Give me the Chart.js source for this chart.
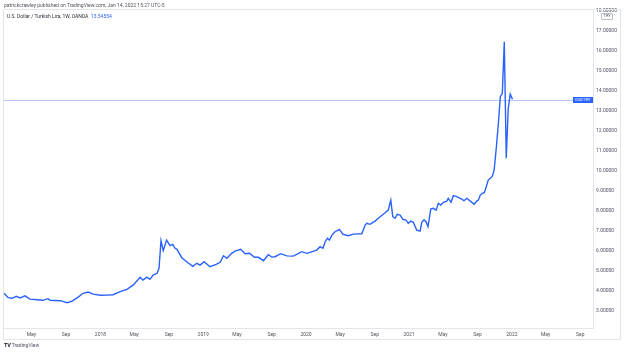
<!DOCTYPE html>
<html><head><meta charset="utf-8">
<script src="https://cdn.jsdelivr.net/npm/chart.js@4.4.1/dist/chart.umd.min.js"></script>
<style>
html,body{margin:0;padding:0;background:#fff;}
#wrap{position:relative;width:624px;height:353px;overflow:hidden;font-family:Roboto,"Liberation Sans",sans-serif;}
canvas{position:absolute;left:0;top:0;}
.t{position:absolute;white-space:nowrap;line-height:1;}
</style></head><body>
<div id="wrap">
<canvas id="c" width="624" height="353"></canvas>
<div style="position:absolute;left:3px;top:9px;width:616px;height:329px;border:1px solid #e3e5ea;"></div>
<div class="t" style="left:4px;top:2.5px;font-size:5px;color:#50535e;">patrickcrawley published on TradingView.com, Jan 14, 2022 15:27 UTC-5</div>
<div class="t" style="left:7px;top:14px;font-size:5px;color:#2a2e39;">U.S. Dollar / Turkish Lira, 1W, OANDA&nbsp; <span style="color:#2962ff">13.54554</span></div>
<div class="t" style="left:601px;top:12.5px;font-size:4px;color:#50535e;background:#fff;border:0.6px solid #b8bcc6;border-radius:1px;padding:0.8px 1.5px;">TRY</div>
<div class="t" id="badge" style="left:572.5px;top:96.5px;width:20px;height:6.2px;font-size:3.8px;line-height:6.2px;text-align:center;color:#fff;background:#2962ff;">USD/TRY</div>
<div class="t" style="left:4px;top:343px;font-size:5px;color:#131722;"><b style="font-size:5.5px;letter-spacing:-0.3px;">TV</b>&nbsp;<span style="color:#50535e">TradingView</span></div>
</div>
<script>
// ---- data ----
const dates = [
"2017-01-24","2017-02-07","2017-02-21","2017-03-08","2017-03-22","2017-04-08","2017-04-26","2017-05-21","2017-06-11","2017-06-29","2017-07-06","2017-08-11","2017-09-05","2017-09-22","2017-10-14","2017-10-31","2017-11-18","2017-12-06",
"2018-01-01","2018-01-25","2018-02-15","2018-03-12","2018-04-05","2018-04-27","2018-05-22","2018-06-01","2018-06-15","2018-06-26","2018-07-07","2018-07-21","2018-07-28","2018-08-04","2018-08-12","2018-08-24","2018-09-05","2018-09-15","2018-09-23","2018-09-29","2018-10-17","2018-11-03","2018-11-25","2018-12-09","2018-12-21",
"2019-01-04","2019-01-25","2019-02-16","2019-03-02","2019-03-14","2019-03-26","2019-04-12","2019-04-24","2019-05-14","2019-05-30","2019-06-14","2019-07-02","2019-07-16","2019-08-03","2019-08-20","2019-09-02","2019-09-13","2019-10-03","2019-10-25","2019-11-17","2019-12-17",
"2020-01-04","2020-02-08","2020-02-20","2020-03-01","2020-03-09","2020-03-17","2020-03-24","2020-04-02","2020-04-13","2020-04-29","2020-05-11","2020-05-31","2020-06-17","2020-07-17","2020-07-29","2020-08-04","2020-08-15","2020-09-02","2020-09-20","2020-10-08","2020-10-19","2020-10-28","2020-11-04","2020-11-12","2020-11-20","2020-11-30","2020-12-10","2020-12-21","2020-12-29",
"2021-01-07","2021-01-16","2021-01-28","2021-02-09","2021-02-15","2021-02-23","2021-03-02","2021-03-09","2021-03-19","2021-03-28","2021-04-07","2021-04-15","2021-04-23","2021-05-03","2021-05-15","2021-05-20","2021-05-30","2021-06-07","2021-06-19","2021-07-07","2021-07-15","2021-07-25","2021-08-06","2021-08-20","2021-08-29","2021-09-04","2021-09-11","2021-09-18","2021-09-25","2021-10-02","2021-10-09","2021-10-16","2021-10-23","2021-10-30","2021-11-07","2021-11-14","2021-11-21","2021-11-28","2021-12-05","2021-12-12","2021-12-19","2021-12-26","2022-01-03"
];
const usdTry = [
3.87,3.65,3.62,3.72,3.64,3.74,3.58,3.55,3.52,3.60,3.52,3.50,3.40,3.48,3.68,3.87,3.93,3.83,
3.77,3.78,3.80,3.95,4.07,4.28,4.67,4.53,4.68,4.57,4.78,4.87,5.12,6.50,6.00,6.53,6.25,6.32,6.12,6.08,5.65,5.45,5.22,5.37,5.28,
5.45,5.20,5.32,5.42,5.75,5.62,5.87,5.98,6.07,5.85,5.87,5.67,5.67,5.50,5.80,5.68,5.70,5.85,5.74,5.73,5.95,
5.87,6.03,6.20,6.12,6.45,6.62,6.53,6.78,6.95,7.07,6.82,6.75,6.83,6.85,7.28,7.37,7.32,7.48,7.70,7.90,8.03,8.53,7.70,7.62,7.82,7.78,7.57,7.53,7.37,
7.48,7.42,7.03,6.98,7.42,7.55,7.45,7.20,8.08,8.12,8.03,8.37,8.28,8.42,8.48,8.62,8.42,8.75,8.70,8.58,8.50,8.62,8.48,8.32,8.48,8.53,8.78,8.87,8.90,9.20,9.53,9.62,9.70,10.03,11.20,12.37,13.70,13.87,16.45,10.62,13.10,13.83,13.57
];
const lastPrice = 13.54554;
const xTickDates = ["2017-05-01","2017-09-01","2018-01-01","2018-05-01","2018-09-01","2019-01-01","2019-05-01","2019-09-01","2020-01-01","2020-05-01","2020-09-01","2021-01-01","2021-05-01","2021-09-01","2022-01-01","2022-05-01","2022-09-01"];
const xTickLabels = ["May","Sep","2018","May","Sep","2019","May","Sep","2020","May","Sep","2021","May","Sep","2022","May","Sep"];
const yTickValues = [3,4,5,6,7,8,9,10,11,12,13,14,15,16,17,18];
const xRange = ["2017-01-20","2022-10-16"];
const yRange = [2.135, 18.085];

// ---- helpers ----
const base = Date.parse("2018-01-01");
const dayOf = s => (Date.parse(s) - base) / 86400000;
const points = dates.map((d, i) => ({x: dayOf(d), y: usdTry[i]}));

const priceLine = {
  id: 'priceLine',
  beforeDatasetsDraw(chart) {
    const {ctx, chartArea: a, scales: {y}} = chart;
    const py = Math.round(y.getPixelForValue(lastPrice)) + 0.5;
    ctx.save();
    ctx.strokeStyle = '#b9cafc';
    ctx.lineWidth = 1;
    ctx.beginPath(); ctx.moveTo(a.left, py); ctx.lineTo(a.right, py); ctx.stroke();
    ctx.restore();
    document.getElementById('badge').style.top = (py - 3.6) + 'px';
  }
};

const tickFont = {family: 'Roboto, "Liberation Sans", sans-serif', size: 5};

new Chart(document.getElementById('c'), {
  type: 'line',
  data: {datasets: [{
    data: points,
    borderColor: '#2962ff',
    borderWidth: 1.4,
    pointRadius: 0,
    tension: 0,
    fill: false
  }]},
  options: {
    responsive: false,
    animation: false,
    layout: {padding: {left: 3, top: 9, right: 0, bottom: 0}},
    plugins: {legend: {display: false}, tooltip: {enabled: false}},
    scales: {
      x: {
        type: 'linear',
        min: dayOf(xRange[0]),
        max: dayOf(xRange[1]),
        afterBuildTicks: s => { s.ticks = xTickDates.map(d => ({value: dayOf(d)})); },
        afterFit: s => { s.height = 25; },
        grid: {display: false, drawTicks: false},
        border: {display: true, color: '#e3e5ea', width: 1},
        ticks: {
          autoSkip: false, maxRotation: 0, padding: 3.5,
          color: '#50535e', font: tickFont,
          callback: (v, i) => xTickLabels[i]
        }
      },
      y: {
        position: 'right',
        min: yRange[0],
        max: yRange[1],
        afterBuildTicks: s => { s.ticks = yTickValues.map(v => ({value: v})); },
        afterFit: s => { s.width = 31; },
        grid: {display: false, drawTicks: false},
        border: {display: true, color: '#e3e5ea', width: 1},
        ticks: {
          autoSkip: false, padding: 3,
          color: '#50535e', font: tickFont,
          callback: v => Number(v).toFixed(5)
        }
      }
    }
  },
  plugins: [priceLine]
});
</script>
</body></html>
